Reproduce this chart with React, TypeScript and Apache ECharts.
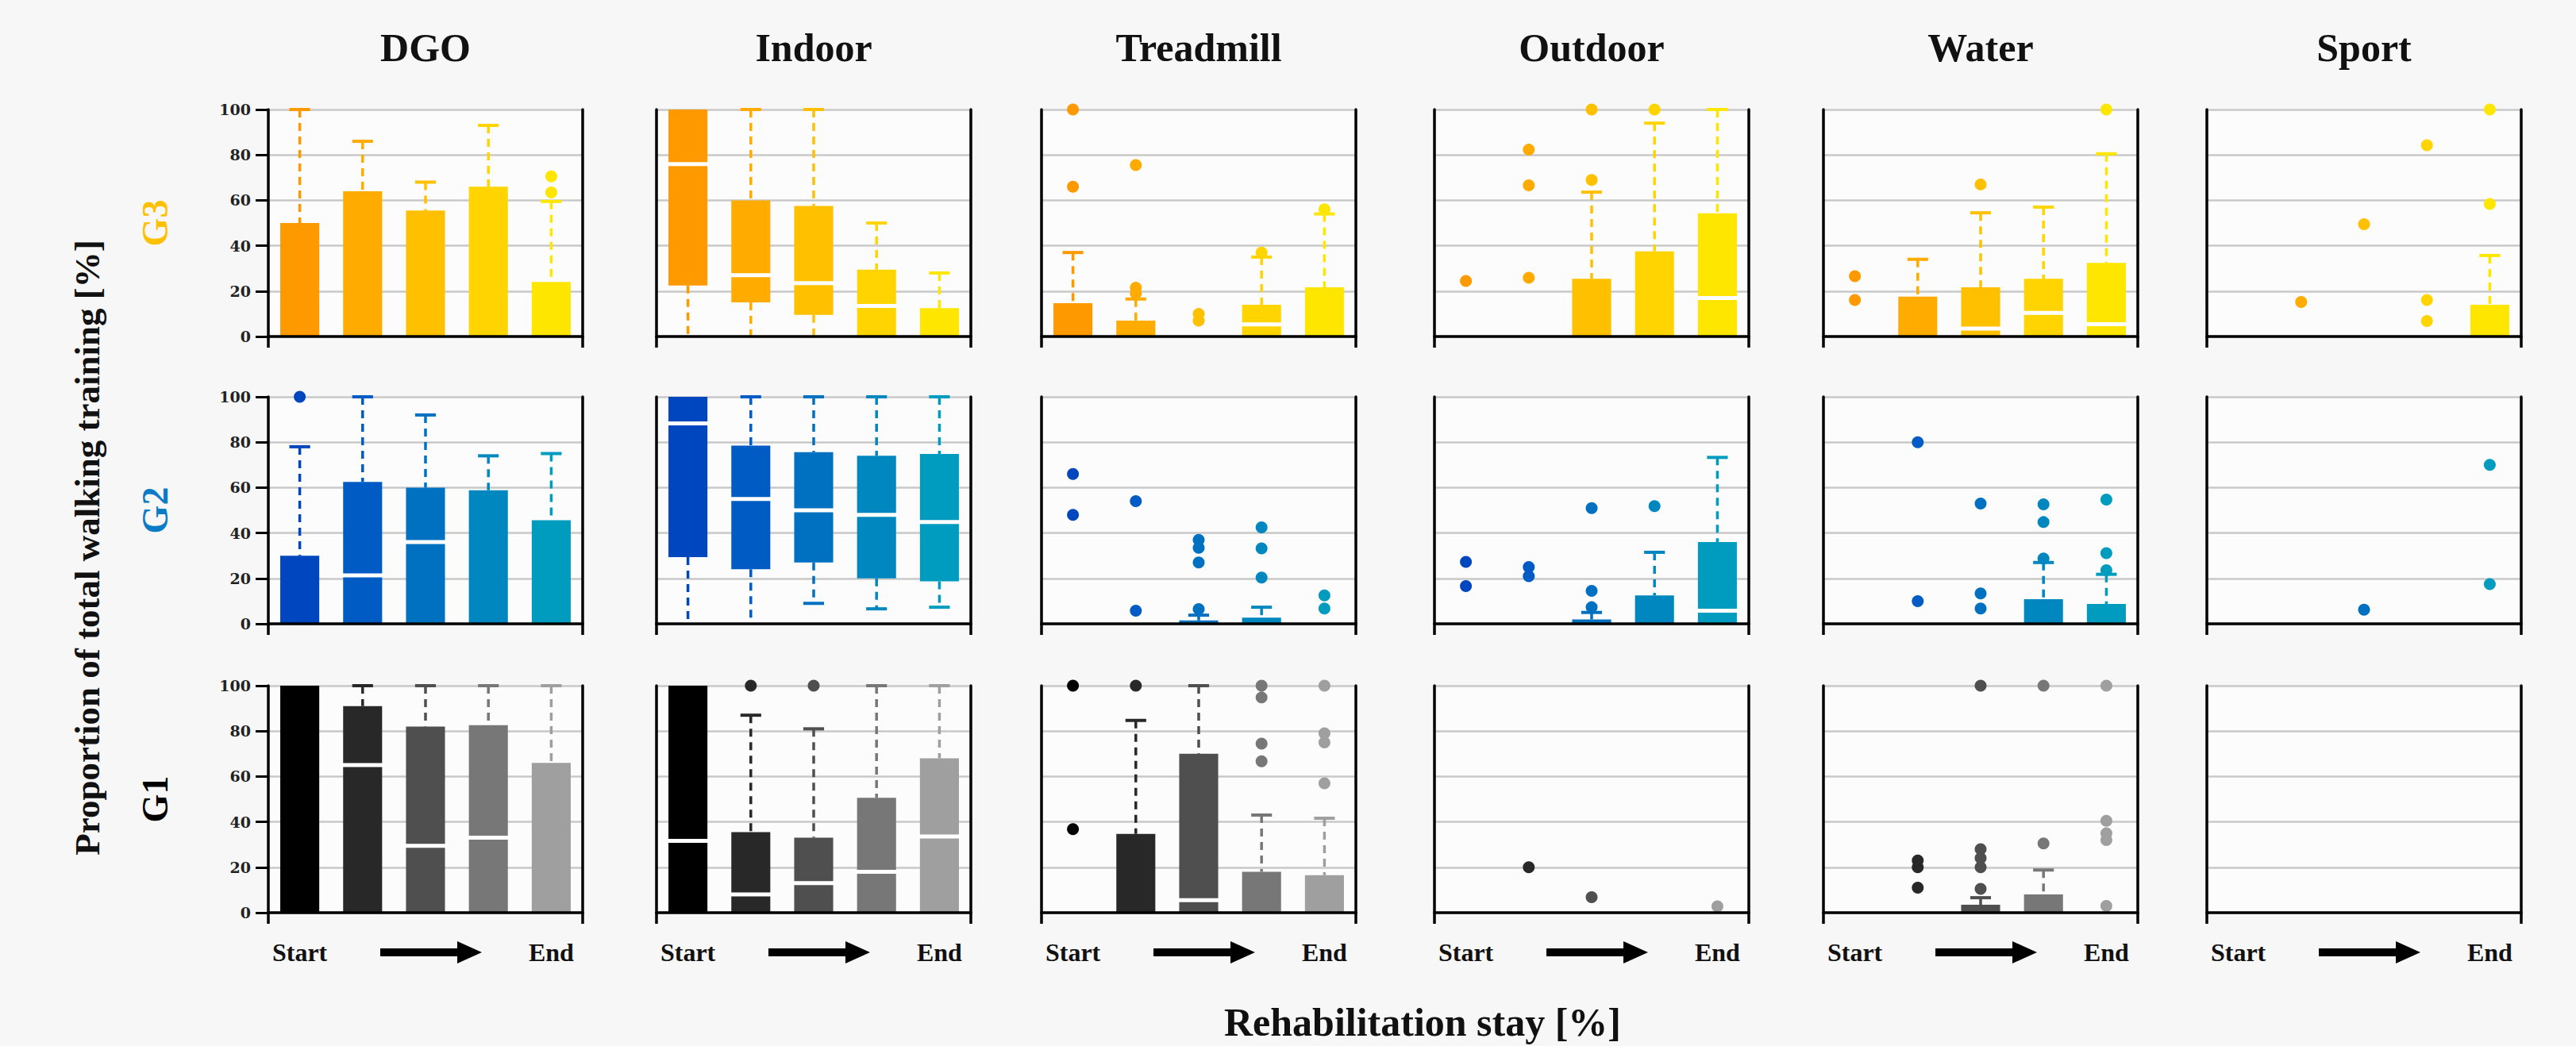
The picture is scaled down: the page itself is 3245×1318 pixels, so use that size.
import { useEffect, useRef } from 'react';
import * as echarts from 'echarts';

const W = 3245;
const H = 1318;

// ---------- categories / labels ----------
const activities = ['DGO', 'Indoor', 'Treadmill', 'Outdoor', 'Water', 'Sport'];
const groups = ['G3', 'G2', 'G1'];
const timePoints = ['t1', 't2', 't3', 't4', 't5'];
const timeLabels = ['Start', '', '', '', 'End'];
const yTitle = 'Proportion of total walking training [%]';
const xTitle = 'Rehabilitation stay [%]';

// ---------- data: boxes [min, q1, median, q3, max] per time point, outliers per time point ----------
// G3
const g3DgoBoxes = [[0, 0, 0, 50, 100], [0, 0, 0, 64, 86], [0, 0, 0, 55.5, 68], [0, 0, 0, 66, 93], [0, 0, 0, 24, 59.5]];
const g3DgoOut = [[], [], [], [], [63.5, 70.5]];
const g3IndoorBoxes = [[0, 22.5, 76, 100, 100], [0, 15, 27, 60, 100], [0, 9.5, 23.5, 57.5, 100], [0, 0, 13.5, 29.5, 50], [0, 0, 0, 12.5, 28]];
const g3IndoorOut = [[], [], [], [], []];
const g3TreadBoxes = [[0, 0, 0, 14.7, 37], [0, 0, 0, 7, 16.5], null, [0, 0, 5.3, 14, 35], [0, 0, 0, 21.7, 54]];
const g3TreadOut = [[100, 66], [75.5, 21.5, 19], [10, 7], [37], [56]];
const g3OutdoorBoxes = [null, null, [0, 0, 0, 25.4, 63.6], [0, 0, 0, 37.5, 94], [0, 0, 17, 54.3, 100]];
const g3OutdoorOut = [[24.5], [82.3, 66.6, 25.9], [100, 69], [100], []];
const g3WaterBoxes = [null, [0, 0, 0, 17.6, 34], [0, 0, 3.5, 21.7, 54.5], [0, 0, 10.4, 25.4, 57], [0, 0, 5.4, 32.4, 80.5]];
const g3WaterOut = [[26.6, 16.1], [], [67], [], [100]];
const g3SportBoxes = [null, null, null, null, [0, 0, 0, 14, 35.7]];
const g3SportOut = [[], [15.2], [49.5], [84.3, 16.1, 6.8], [100, 58.4]];
// G2
const g2DgoBoxes = [[0, 0, 0, 30, 78], [0, 0, 21.3, 62.5, 100], [0, 0, 36, 60, 92], [0, 0, 0, 58.8, 74], [0, 0, 0, 45.6, 75]];
const g2DgoOut = [[100], [], [], [], []];
const g2IndoorBoxes = [[0, 29.4, 88.3, 100, 100], [0, 24, 55, 78.5, 100], [9, 27, 50, 75.6, 100], [6.6, 20, 48, 74, 100], [7.3, 18.7, 44.8, 74.8, 100]];
const g2IndoorOut = [[], [], [], [], []];
const g2TreadBoxes = [null, null, [0, 0, 0, 1.5, 3.8], [0, 0, 0, 2.7, 7.3], null];
const g2TreadOut = [[66, 48], [54, 5.8], [37, 33.5, 27, 6.5], [42.5, 33.2, 20.4], [12.5, 6.7]];
const g2OutdoorBoxes = [null, null, [0, 0, 0, 1.9, 5], [0, 0, 0, 12.5, 31.5], [0, 0, 5.8, 36, 73.3]];
const g2OutdoorOut = [[27.3, 16.6], [25, 21], [51, 14.5, 7.3], [51.8], []];
const g2WaterBoxes = [null, null, null, [0, 0, 0, 10.8, 27], [0, 0, 0, 8.7, 21.8]];
const g2WaterOut = [[], [80, 10], [53, 13.4, 6.7], [52.6, 44.8, 28.8], [54.7, 31.1, 23.6]];
const g2SportBoxes = [null, null, null, null, null];
const g2SportOut = [[], [], [6.2], [], [70, 17.5]];
// G1
const g1DgoBoxes = [[0, 0, 0, 100, 100], [0, 0, 65, 91, 100], [0, 0, 29.5, 82, 100], [0, 0, 33, 82.6, 100], [0, 0, 0, 66, 100]];
const g1DgoOut = [[], [], [], [], []];
const g1IndoorBoxes = [[0, 0, 31.6, 100, 100], [0, 0, 8, 35.5, 87], [0, 0, 13, 33, 81], [0, 0, 18, 50.6, 100], [0, 0, 33.6, 68, 100]];
const g1IndoorOut = [[], [100], [100], [], []];
const g1TreadBoxes = [null, [0, 0, 0, 34.7, 84.7], [0, 0, 5.5, 70, 100], [0, 0, 0, 18, 43], [0, 0, 0, 16.5, 41.6]];
const g1TreadOut = [[100, 36.8], [100], [], [100, 94.8, 74.5, 66.7], [100, 79, 75, 57]];
const g1OutdoorBoxes = [null, null, null, null, null];
const g1OutdoorOut = [[], [20], [6.8], [], [2.8]];
const g1WaterBoxes = [null, null, [0, 0, 0, 3.5, 6.6], [0, 0, 0, 8, 18.8], null];
const g1WaterOut = [[], [23, 20, 11], [100, 28, 24, 20, 10.5], [100, 30.5], [100, 40.5, 35, 32, 3]];
const g1SportBoxes = [null, null, null, null, null];
const g1SportOut = [[], [], [], [], []];

const boxTable = [
  [g3DgoBoxes, g3IndoorBoxes, g3TreadBoxes, g3OutdoorBoxes, g3WaterBoxes, g3SportBoxes],
  [g2DgoBoxes, g2IndoorBoxes, g2TreadBoxes, g2OutdoorBoxes, g2WaterBoxes, g2SportBoxes],
  [g1DgoBoxes, g1IndoorBoxes, g1TreadBoxes, g1OutdoorBoxes, g1WaterBoxes, g1SportBoxes],
];
const outTable = [
  [g3DgoOut, g3IndoorOut, g3TreadOut, g3OutdoorOut, g3WaterOut, g3SportOut],
  [g2DgoOut, g2IndoorOut, g2TreadOut, g2OutdoorOut, g2WaterOut, g2SportOut],
  [g1DgoOut, g1IndoorOut, g1TreadOut, g1OutdoorOut, g1WaterOut, g1SportOut],
];

// ---------- styles ----------
const rowColors = [
  ['#FF9900', '#FFAB00', '#FFC000', '#FFD400', '#FFE600'],
  ['#0046BE', '#005CC4', '#0071C1', '#0087BF', '#009CC0'],
  ['#000000', '#282828', '#4F4F4F', '#777777', '#9F9F9F'],
];
const groupLabelColors = ['#FFC000', '#0A7CC6', '#000000'];
const SERIF = '"Liberation Serif", "Times New Roman", serif';

// ---------- layout ----------
const colLeft = [338, 827, 1312, 1807, 2297, 2780];
const panelW = 396;
const rowTop = [138, 500, 864];
const panelH = 286;

function buildOption() {
  const grid: any[] = [];
  const xAxis: any[] = [];
  const yAxis: any[] = [];
  const series: any[] = [];
  const graphic: any[] = [];
  let gi = 0;
  for (let r = 0; r < groups.length; r++) {
    const colors = rowColors[r];
    for (let c = 0; c < activities.length; c++) {
      grid.push({
        left: colLeft[c], top: rowTop[r], width: panelW, height: panelH,
        show: true, backgroundColor: '#fcfcfc', borderWidth: 0,
      });
      xAxis.push({
        gridIndex: gi, type: 'category', data: timePoints, boundaryGap: true, z: 5,
        axisLine: { show: true, onZero: false, lineStyle: { color: '#000', width: 3.5 } },
        axisTick: { show: true, interval: (i: number) => i === 0, length: 14, lineStyle: { color: '#000', width: 3.5 } },
        axisLabel: r === groups.length - 1
          ? { show: true, interval: 0, formatter: (_v: string, i: number) => timeLabels[i], margin: 34,
              fontFamily: SERIF, fontWeight: 'bold', fontSize: 32, color: '#111' }
          : { show: false },
        splitLine: { show: false },
      });
      yAxis.push({
        gridIndex: gi, type: 'value', min: 0, max: 100, interval: 20, position: 'left', z: 1,
        axisLine: { show: true, onZero: false, lineStyle: { color: '#000', width: 3.5 } },
        axisTick: c === 0 ? { show: true, length: 16, lineStyle: { color: '#000', width: 3 } } : { show: false },
        axisLabel: c === 0
          ? { show: true, margin: 22, fontFamily: '"DejaVu Serif", serif', fontWeight: 'bold', fontSize: 19, color: '#222' }
          : { show: false },
        splitLine: { show: true, lineStyle: { color: '#c9c9c9', width: 2.5 } },
      });
      yAxis.push({
        gridIndex: gi, type: 'value', min: 0, max: 100, interval: 20, position: 'right', z: 5,
        axisLine: { show: true, onZero: false, lineStyle: { color: '#000', width: 3.5 } },
        axisTick: { show: false }, axisLabel: { show: false }, splitLine: { show: false },
      });

      const boxes = boxTable[r][c];
      const boxData: any[] = [];
      boxes.forEach((b, i) => { if (b) boxData.push([i, ...b]); });
      series.push({
        type: 'custom', xAxisIndex: gi, yAxisIndex: 2 * gi, z: 2,
        encode: { x: 0, y: [1, 2, 3, 4, 5] },
        data: boxData,
        renderItem: (_params: any, api: any) => {
          const idx = api.value(0);
          const mn = api.value(1), q1 = api.value(2), md = api.value(3), q3 = api.value(4), mx = api.value(5);
          const p0 = api.coord([idx, mn]);
          const cx = p0[0];
          const yMin = p0[1];
          const yQ1 = api.coord([idx, q1])[1];
          const yMd = api.coord([idx, md])[1];
          const yQ3 = api.coord([idx, q3])[1];
          const yMax = api.coord([idx, mx])[1];
          const band = api.size([1, 0])[0];
          const bw = band * 0.62;
          const cw = band * 0.33;
          const col = colors[idx];
          const ch: any[] = [];
          if (mx > q3) {
            ch.push({ type: 'line', shape: { x1: cx, y1: yMax, x2: cx, y2: yQ3 }, style: { stroke: col, lineWidth: 3.5, lineDash: [10, 7] } });
            ch.push({ type: 'line', shape: { x1: cx - cw / 2, y1: yMax, x2: cx + cw / 2, y2: yMax }, style: { stroke: col, lineWidth: 4 } });
          }
          if (mn < q1) {
            ch.push({ type: 'line', shape: { x1: cx, y1: yQ1, x2: cx, y2: yMin }, style: { stroke: col, lineWidth: 3.5, lineDash: [10, 7] } });
            if (mn > 0) {
              ch.push({ type: 'line', shape: { x1: cx - cw / 2, y1: yMin, x2: cx + cw / 2, y2: yMin }, style: { stroke: col, lineWidth: 4 } });
            }
          }
          if (q3 > q1) {
            ch.push({ type: 'rect', shape: { x: cx - bw / 2, y: yQ3, width: bw, height: yQ1 - yQ3 }, style: { fill: col } });
          }
          if (md > q1 && md < q3) {
            ch.push({ type: 'line', shape: { x1: cx - bw / 2 - 2, y1: yMd, x2: cx + bw / 2 + 2, y2: yMd }, style: { stroke: '#ffffff', lineWidth: 5 } });
          }
          return { type: 'group', children: ch };
        },
      });

      const outs = outTable[r][c];
      const outData: any[] = [];
      outs.forEach((arr, i) => arr.forEach((v) => outData.push([i, v])));
      series.push({
        type: 'scatter', xAxisIndex: gi, yAxisIndex: 2 * gi, z: 3,
        symbol: 'circle', symbolSize: 15,
        data: outData,
        itemStyle: { color: (p: any) => colors[p.data[0]], opacity: 1 },
      });
      gi++;
    }
  }

  // column titles
  activities.forEach((a, c) => {
    graphic.push({
      type: 'text', x: colLeft[c] + panelW / 2, y: 60,
      style: { text: a, fontFamily: SERIF, fontWeight: 'bold', fontSize: 50, fill: '#111', align: 'center', verticalAlign: 'middle' },
    });
  });
  // row labels
  groups.forEach((g, r) => {
    graphic.push({
      type: 'text', x: 195, y: rowTop[r] + panelH / 2, rotation: Math.PI / 2,
      style: { text: g, fontFamily: SERIF, fontWeight: 'bold', fontSize: 46, fill: groupLabelColors[r], align: 'center', verticalAlign: 'middle' },
    });
  });
  // axis titles
  graphic.push({
    type: 'text', x: 110, y: 690, rotation: Math.PI / 2,
    style: { text: yTitle, fontFamily: SERIF, fontWeight: 'bold', fontSize: 45, fill: '#111', align: 'center', verticalAlign: 'middle' },
  });
  graphic.push({
    type: 'text', x: 1792, y: 1288,
    style: { text: xTitle, fontFamily: SERIF, fontWeight: 'bold', fontSize: 50, fill: '#111', align: 'center', verticalAlign: 'middle' },
  });
  // arrows under each column
  const ay = 1200;
  colLeft.forEach((L) => {
    const x0 = L + 141, xh = L + 238, xe = L + 269;
    graphic.push({
      type: 'polygon',
      shape: { points: [[x0, ay - 5], [xh, ay - 5], [xh, ay - 14], [xe, ay], [xh, ay + 14], [xh, ay + 5], [x0, ay + 5]] },
      style: { fill: '#000' },
    });
  });

  return {
    animation: false,
    backgroundColor: '#f7f7f7',
    grid, xAxis, yAxis, series, graphic,
  };
}

export default function App() {
  const ref = useRef<HTMLDivElement>(null);
  useEffect(() => {
    const chart = echarts.init(ref.current!, null, { renderer: 'svg' });
    chart.setOption(buildOption() as any);
    return () => chart.dispose();
  }, []);
  return <div ref={ref} style={{ position: 'absolute', left: 0, top: 0, width: W, height: H }} />;
}
